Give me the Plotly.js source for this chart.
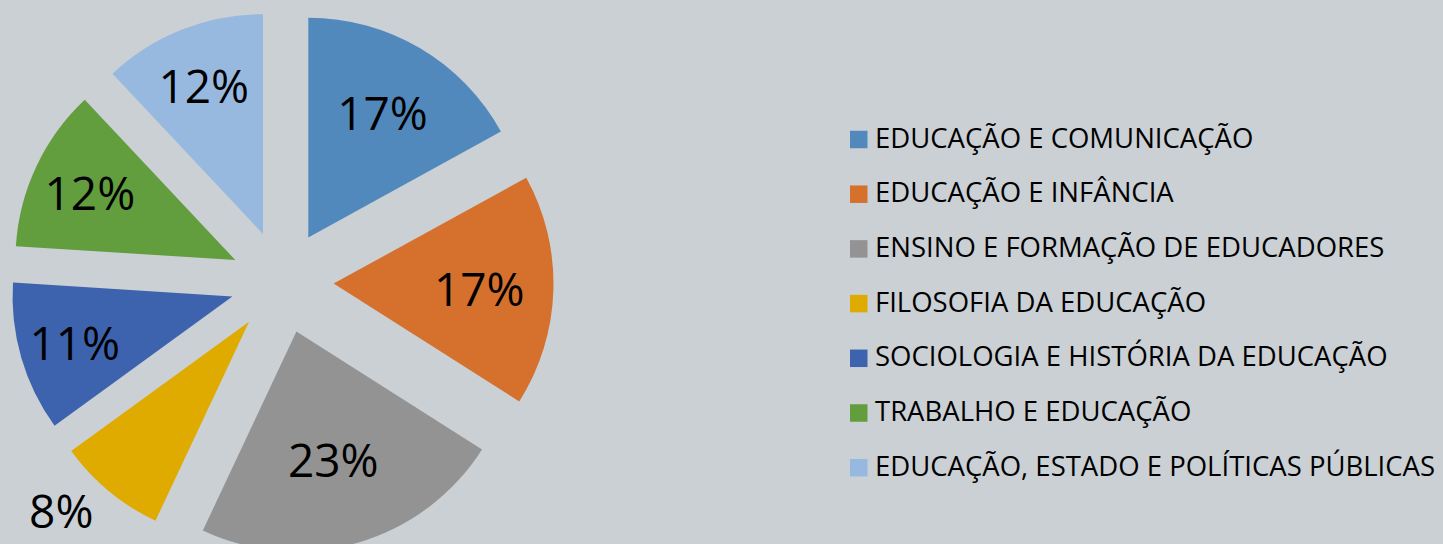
<!DOCTYPE html>
<html>
<head>
<meta charset="utf-8">
<script src="https://cdn.plot.ly/plotly-3.0.1.min.js"></script>
<style>
html, body { margin: 0; padding: 0; overflow: hidden; background: #CBD0D4; }
#chart { width: 1443px; height: 564px; }
</style>
</head>
<body>
<div id="chart"></div>
<script>
const categories = [
  "EDUCAÇÃO E COMUNICAÇÃO",
  "EDUCAÇÃO E INFÂNCIA",
  "ENSINO E FORMAÇÃO DE EDUCADORES",
  "FILOSOFIA DA EDUCAÇÃO",
  "SOCIOLOGIA E HISTÓRIA DA EDUCAÇÃO",
  "TRABALHO E EDUCAÇÃO",
  "EDUCAÇÃO, ESTADO E POLÍTICAS PÚBLICAS"
];
const values = [17, 17, 23, 8, 11, 12, 12];
const colors = ["#5289BD", "#D5702D", "#939393", "#DFAB00", "#3D63AE", "#629D3E", "#98B9DF"];
const textPositions = ["inside", "inside", "inside", "outside", "inside", "inside", "inside"];

const W = 1443, H = 564;
const BG = "#CBD0D4";

const trace = {
  type: "pie",
  labels: categories,
  values: values,
  sort: false,
  direction: "clockwise",
  rotation: 0,
  pull: values.map(() => 0.235),
  marker: { colors: colors, line: { width: 0 } },
  textinfo: "percent",
  texttemplate: "%{percent:.0%}",
  textposition: textPositions,
  insidetextorientation: "horizontal",
  insidetextfont: { family: "Open Sans, sans-serif", size: 46, color: "#000000" },
  outsidetextfont: { family: "Open Sans, sans-serif", size: 46, color: "#000000" },
  hoverinfo: "label+percent",
  showlegend: false,
  domain: { x: [10.5 / W, 553.5 / W], y: [0, 1] }
};

// custom legend built from the category and colour arrays
const legX = 850, legSq = 17.5, legY0 = 139.5, legStep = 54.7;
const shapes = [];
const annotations = [];
categories.forEach((c, i) => {
  const cy = legY0 + i * legStep;
  shapes.push({
    type: "rect", xref: "paper", yref: "paper",
    x0: legX / W, x1: (legX + legSq) / W,
    y0: 1 - (cy + legSq / 2) / H, y1: 1 - (cy - legSq / 2) / H,
    fillcolor: colors[i], line: { width: 0 }
  });
  annotations.push({
    xref: "paper", yref: "paper",
    x: (legX + legSq + 5.5) / W, y: 1 - (cy - 2.5) / H,
    xanchor: "left", yanchor: "middle",
    text: c, showarrow: false,
    font: { family: "Open Sans, sans-serif", size: 27.5, color: "#000000" }
  });
});

const layout = {
  width: W, height: H,
  margin: { l: 0, r: 0, t: 0, b: 0 },
  paper_bgcolor: BG,
  plot_bgcolor: BG,
  showlegend: false,
  shapes: shapes,
  annotations: annotations
};

Plotly.newPlot("chart", [trace], layout, { displayModeBar: false, staticPlot: true });
</script>
</body>
</html>
